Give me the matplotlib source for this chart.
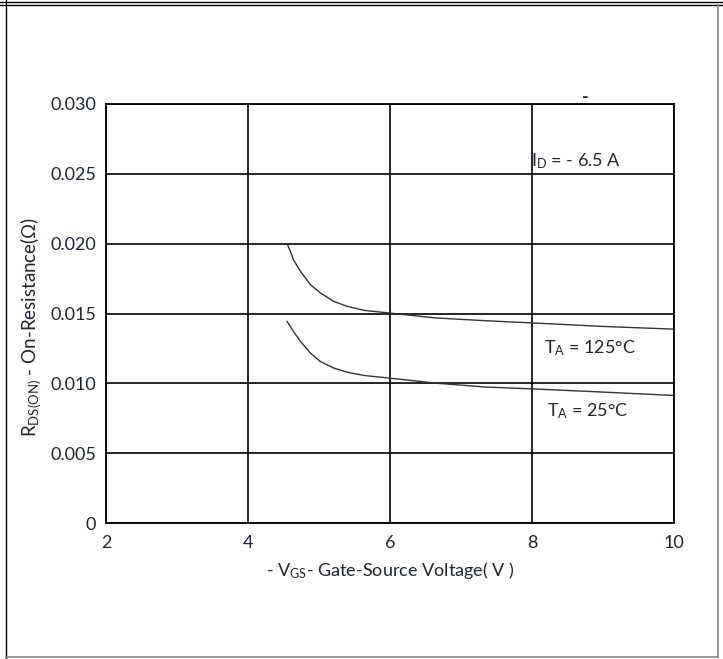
import matplotlib
matplotlib.use("Agg")
import matplotlib.pyplot as plt
from matplotlib.lines import Line2D

plt.rcParams["font.family"] = ["Lato", "DejaVu Sans"]
plt.rcParams["mathtext.fontset"] = "custom"
plt.rcParams["mathtext.rm"] = "Lato"
plt.rcParams["mathtext.it"] = "Lato:italic"

# On-resistance vs gate-source voltage, I_D = -6.5 A
vgs_125 = [4.55, 4.60, 4.64, 4.74, 4.88, 5.02, 5.21, 5.40, 5.64, 6.0, 6.65, 7.36, 8.02, 9.02, 10.0]
rds_125 = [0.0200, 0.01940, 0.01885, 0.01801, 0.01706, 0.01647, 0.01586, 0.01551, 0.01522,
           0.01503, 0.01468, 0.01448, 0.01432, 0.01407, 0.01388]

vgs_25 = [4.55, 4.60, 4.64, 4.74, 4.88, 5.02, 5.21, 5.40, 5.64, 6.0, 6.65, 7.36, 8.02, 9.02, 10.0]
rds_25 = [0.01443, 0.01405, 0.01371, 0.01300, 0.01216, 0.01156, 0.01109, 0.01079, 0.01056,
          0.01037, 0.01001, 0.00973, 0.00960, 0.00937, 0.00913]

x_ticks = [2, 4, 6, 8, 10]
y_ticks = [0, 0.005, 0.010, 0.015, 0.020, 0.025, 0.030]
y_tick_labels = ["0", "0.005", "0.010", "0.015", "0.020", "0.025", "0.030"]

txt = "#1e2533"
fs = 13

fig = plt.figure(figsize=(7.23, 6.59), dpi=100)
ax = fig.add_axes([106 / 723, 136 / 659, 568 / 723, 419 / 659])

ax.plot(vgs_125, rds_125, color="#333333", lw=1.0)
ax.plot(vgs_25, rds_25, color="#333333", lw=1.0)

ax.set_xlim(2, 10)
ax.set_ylim(0, 0.030)
ax.set_xticks(x_ticks)
ax.set_yticks(y_ticks)
ax.set_yticklabels(y_tick_labels)
ax.grid(True, color="black", lw=1.2)
for s in ax.spines.values():
    s.set_color("black")
    s.set_linewidth(1.3)
ax.tick_params(length=0, labelsize=fs, labelcolor=txt)
ax.tick_params(axis="x", pad=9)
ax.tick_params(axis="y", pad=7)

ax.set_xlabel(r"- V$_{\mathrm{GS}}$- Gate-Source Voltage( V )", fontsize=fs,
              color=txt, labelpad=6)
ax.set_ylabel(r"R$_{\mathrm{DS(ON)}}$ - On-Resistance($\Omega$)", fontsize=fs + 0.5,
              color=txt)
ax.yaxis.set_label_coords(-0.111, 0.468)

ax.text(7.98, 0.0259, r"I$_{\mathrm{D}}$ = - 6.5 A", fontsize=fs, color=txt,
        ha="left", va="center")
ax.text(8.17, 0.0125, r"T$_{\mathrm{A}}$ = 125°C", fontsize=fs, color=txt,
        ha="left", va="center")
ax.text(8.21, 0.0080, r"T$_{\mathrm{A}}$ = 25°C", fontsize=fs, color=txt,
        ha="left", va="center")
ax.text(8.75, 0.0305, "-", fontsize=13, color=txt, ha="center", va="center",
        fontweight="bold")

# page frame around the chart
fig.add_artist(Line2D([0, 1], [1 - 2 / 659, 1 - 2 / 659], color="black", lw=1.0))
fig.add_artist(Line2D([0, 1], [1 - 5 / 659, 1 - 5 / 659], color="black", lw=1.0))
fig.add_artist(Line2D([5.5 / 723, 5.5 / 723], [0, 1], color="black", lw=1.0))
fig.add_artist(Line2D([718 / 723, 718 / 723], [2 / 659, 1 - 5 / 659], color="#888888", lw=1.2))
fig.add_artist(Line2D([5.5 / 723, 718 / 723], [2 / 659, 2 / 659], color="#888888", lw=1.2))

fig.savefig("out.png", dpi=100)
